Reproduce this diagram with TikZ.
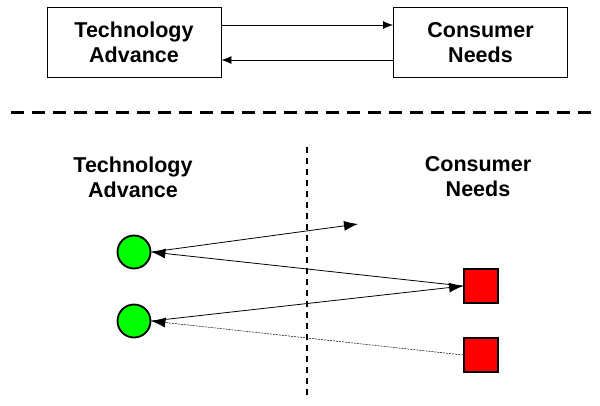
\documentclass[tikz,border=0pt]{standalone}
\usepackage{fontspec}
\setmainfont{Liberation Sans}
\usetikzlibrary{arrows.meta}
\begin{document}
\begin{tikzpicture}[x=1pt,y=-1pt,
  label/.style={font=\fontsize{21.5}{25}\selectfont\bfseries,align=center},
  block/.style={label,draw,line width=0.9pt,minimum width=174pt,minimum height=70pt,inner sep=0pt},
  tech/.style={circle,draw,line width=1.8pt,fill=green,minimum size=33pt,inner sep=0pt},
  need/.style={rectangle,draw,line width=1.8pt,fill=red,minimum size=34pt,inner sep=0pt},
  small/.style={-{Latex[length=10pt,width=8pt]},line width=0.8pt},
  big/.style={-{Latex[length=14pt,width=10pt]},line width=0.8pt}]
\useasboundingbox (0,0) rectangle (600,405);
% upper half: the two blocks
\node[block] (techbox) at (134,42.5) {Technology\\Advance};
\node[block] (needbox) at (480.5,42.5) {Consumer\\Needs};
\draw[small] ([yshift=17.5pt]techbox.east) -- ([yshift=17.5pt]needbox.west);
\draw[small] ([yshift=-17.5pt]needbox.west) -- ([yshift=-17.5pt]techbox.east);
% separator
\draw[line width=3pt,dash pattern=on 13pt off 8pt] (11,112) -- (598,112);
% lower half
\node[label] (techlbl) at (133,177) {Technology\\Advance};
\node[label] (needlbl) at (478,177) {Consumer\\Needs};
\draw[line width=2.5pt,dash pattern=on 6pt off 5pt] (307,147) -- (307,395);
\node[tech] (t1) at (134,252) {};
\node[tech] (t2) at (134,321) {};
\node[need] (n1) at (481,286) {};
\node[need] (n2) at (481,355) {};
\coordinate (free) at (358,224);
\draw[big] (t1.east) -- (free);
\draw[big] (n1.west) -- (t1.east);
\draw[big] (t2.east) -- (n1.west);
\draw[big,line width=0.5pt,dash pattern=on 2pt off 1pt] (n2.west) -- (t2.east);
\end{tikzpicture}
\end{document}
